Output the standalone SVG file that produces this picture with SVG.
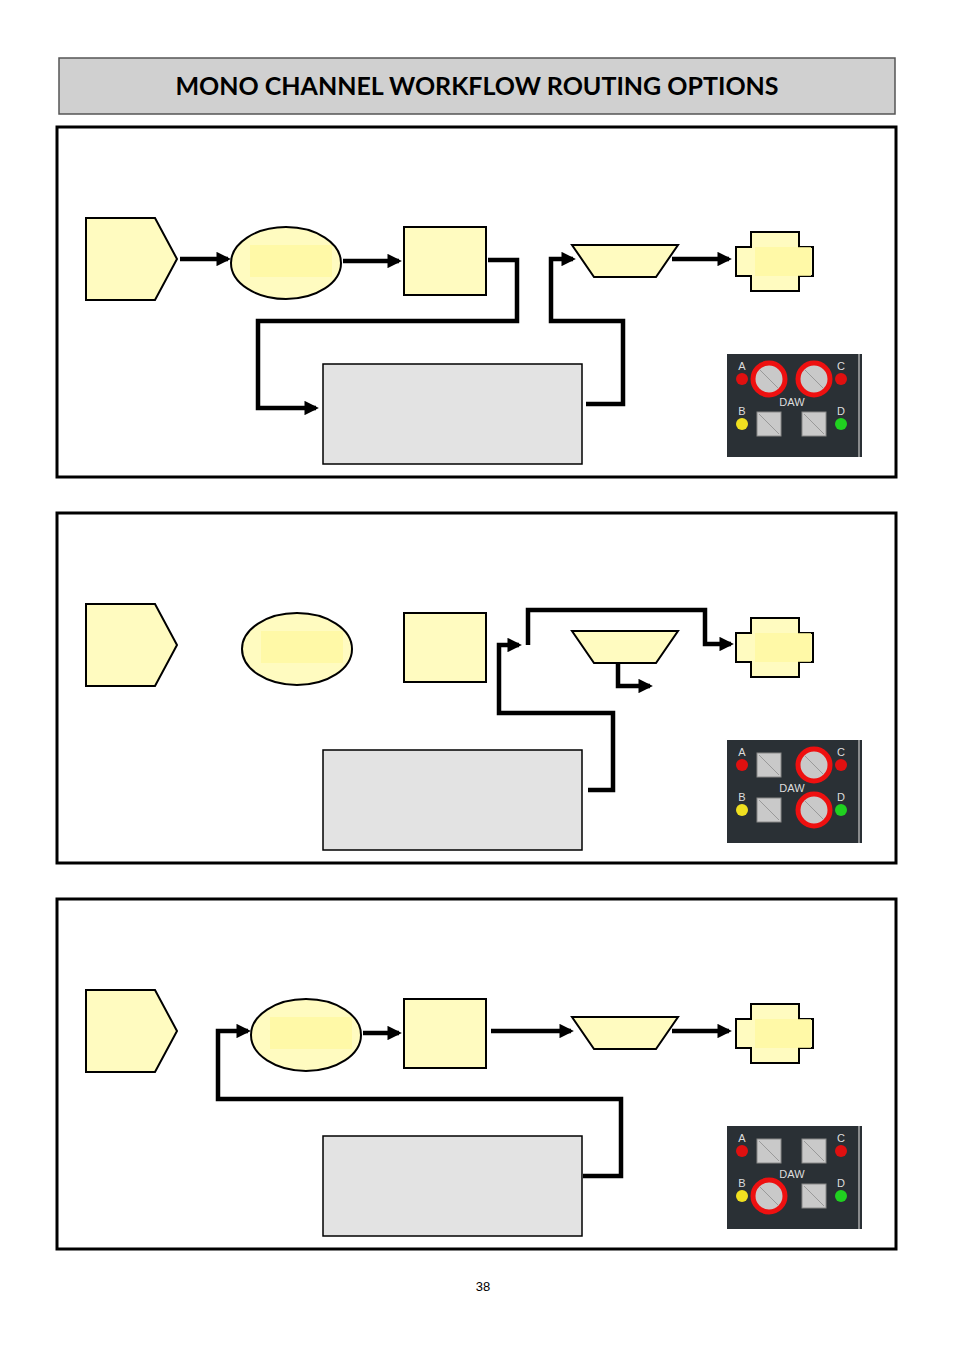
<svg xmlns="http://www.w3.org/2000/svg" xmlns:xlink="http://www.w3.org/1999/xlink" width="954" height="1350" viewBox="0 0 954 1350">
<style>
.y{fill:#fffbc0;stroke:#000;stroke-width:2}
.hi{fill:#fff9a0;stroke:none;opacity:.8}
.g{fill:#e3e3e3;stroke:#000;stroke-width:1.5}
.fr{fill:#fff;stroke:#000;stroke-width:3}
.c{fill:none;stroke:#000;stroke-width:4.5;marker-end:url(#ah)}
.lab{font-family:"Liberation Sans",Arial,sans-serif;font-size:11px;fill:#ddd;text-anchor:middle}
.btn{fill:#c9c9c9;stroke:#888;stroke-width:1}
.ring{fill:#c9c9c9;stroke:#ee1010;stroke-width:5}
</style>
<defs>
<marker id="ah" viewBox="0 0 10 10" refX="8" refY="5" markerWidth="3.2" markerHeight="3.2" orient="auto" markerUnits="strokeWidth"><path d="M0,0 L10,5 L0,10 z" fill="#000"/></marker>
<g id="sq"><rect x="-12" y="-12" width="24" height="24" class="btn"/><line x1="-10" y1="-10" x2="10" y2="10" stroke="#999" stroke-width="1"/></g>
<g id="rg"><circle r="16" class="ring"/><line x1="-9" y1="-9" x2="9" y2="9" stroke="#999" stroke-width="1"/></g>
<g id="dawbase">
<rect x="0" y="0" width="135" height="103" fill="#2a3035"/>
<line x1="132" y1="0" x2="132" y2="103" stroke="#aaa" stroke-width="1.5"/>
<text class="lab" x="15" y="16">A</text><text class="lab" x="114" y="16">C</text>
<text class="lab" x="15" y="61">B</text><text class="lab" x="114" y="61">D</text>
<text class="lab" x="65" y="52">DAW</text>
<circle cx="15" cy="25" r="6" fill="#e01010"/><circle cx="114" cy="25" r="6" fill="#e01010"/>
<circle cx="15" cy="70" r="6" fill="#f0e020"/><circle cx="114" cy="70" r="6" fill="#20d020"/>
</g>
</defs>
<rect width="954" height="1350" fill="#fff"/>
<g id="title"><rect x="59" y="58" width="836" height="56" fill="#d0d0d0" stroke="#555" stroke-width="1.5"/>
<text x="477" y="95" font-family="Lato,'Liberation Sans',sans-serif" font-weight="bold" font-size="25" text-anchor="middle">MONO CHANNEL WORKFLOW ROUTING OPTIONS</text></g>

<!-- Panel 1 -->
<g id="panel1">
<rect class="fr" x="57" y="127" width="839" height="350"/>
<g id="p1-src"><path class="y" d="M86,218 H155 L177,259 L155,300 H86 Z"/></g>
<g id="p1-ell"><ellipse class="y" cx="286" cy="263" rx="55" ry="36"/><rect class="hi" x="250" y="245" width="82" height="32"/></g>
<g id="p1-box"><rect class="y" x="404" y="227" width="82" height="68"/></g>
<g id="p1-trap"><path class="y" d="M572,245 H678 L656,277 H594 Z"/></g>
<g id="p1-out"><path class="y" d="M751,232 H799 V247 H813 V276 H799 V291 H751 V276 H736 V247 H751 Z"/><rect class="hi" x="755" y="247" width="56" height="29"/></g>
<g id="p1-ins"><rect class="g" x="323" y="364" width="259" height="100"/></g>
<g id="p1-daw" transform="translate(727,354)"><use href="#dawbase"/>
<use href="#rg" x="42" y="25"/><use href="#rg" x="87" y="25"/><use href="#sq" x="42" y="70"/><use href="#sq" x="87" y="70"/></g>
</g>
<!-- Panel 2 -->
<g id="panel2">
<rect class="fr" x="57" y="513" width="839" height="350"/>
<g id="p2-src"><path class="y" d="M86,604 H155 L177,645 L155,686 H86 Z"/></g>
<g id="p2-ell"><ellipse class="y" cx="297" cy="649" rx="55" ry="36"/><rect class="hi" x="261" y="631" width="82" height="32"/></g>
<g id="p2-box"><rect class="y" x="404" y="613" width="82" height="69"/></g>
<g id="p2-trap"><path class="y" d="M572,631 H678 L656,663 H594 Z"/></g>
<g id="p2-out"><path class="y" d="M751,618 H799 V633 H813 V662 H799 V677 H751 V662 H736 V633 H751 Z"/><rect class="hi" x="755" y="633" width="56" height="29"/></g>
<g id="p2-ins"><rect class="g" x="323" y="750" width="259" height="100"/></g>
<g id="p2-daw" transform="translate(727,740)"><use href="#dawbase"/>
<use href="#sq" x="42" y="25"/><use href="#rg" x="87" y="25"/><use href="#sq" x="42" y="70"/><use href="#rg" x="87" y="70"/></g>
</g>
<!-- Panel 3 -->
<g id="panel3">
<rect class="fr" x="57" y="899" width="839" height="350"/>
<g id="p3-src"><path class="y" d="M86,990 H155 L177,1031 L155,1072 H86 Z"/></g>
<g id="p3-ell"><ellipse class="y" cx="306" cy="1035" rx="55" ry="36"/><rect class="hi" x="270" y="1017" width="82" height="32"/></g>
<g id="p3-box"><rect class="y" x="404" y="999" width="82" height="69"/></g>
<g id="p3-trap"><path class="y" d="M572,1017 H678 L656,1049 H594 Z"/></g>
<g id="p3-out"><path class="y" d="M751,1004 H799 V1019 H813 V1048 H799 V1063 H751 V1048 H736 V1019 H751 Z"/><rect class="hi" x="755" y="1019" width="56" height="29"/></g>
<g id="p3-ins"><rect class="g" x="323" y="1136" width="259" height="100"/></g>
<g id="p3-daw" transform="translate(727,1126)"><use href="#dawbase"/>
<use href="#sq" x="42" y="25"/><use href="#sq" x="87" y="25"/><use href="#rg" x="42" y="70"/><use href="#sq" x="87" y="70"/></g>
</g>

<g id="connectors">
<path class="c" d="M180,259 H228"/>
<path class="c" d="M343,261 H399"/>
<path class="c" d="M488,260 H517 V321 H258 V408 H316"/>
<path class="c" d="M586,404 H623 V321 H551 V259 H573"/>
<path class="c" d="M672,259 H729"/>

<path class="c" d="M588,790 H613 V713 H499 V645 H519"/>
<path class="c" d="M528,645 V610 H705 V644 H731"/>
<path class="c" d="M618,663 V686 H650"/>

<path class="c" d="M583,1176 H621 V1099 H218 V1031 H248"/>
<path class="c" d="M363,1033 H399"/>
<path class="c" d="M491,1031 H571"/>
<path class="c" d="M672,1031 H729"/>
</g>
<text x="483" y="1291" font-family="'Liberation Sans',sans-serif" font-size="13" text-anchor="middle">38</text>
</svg>
